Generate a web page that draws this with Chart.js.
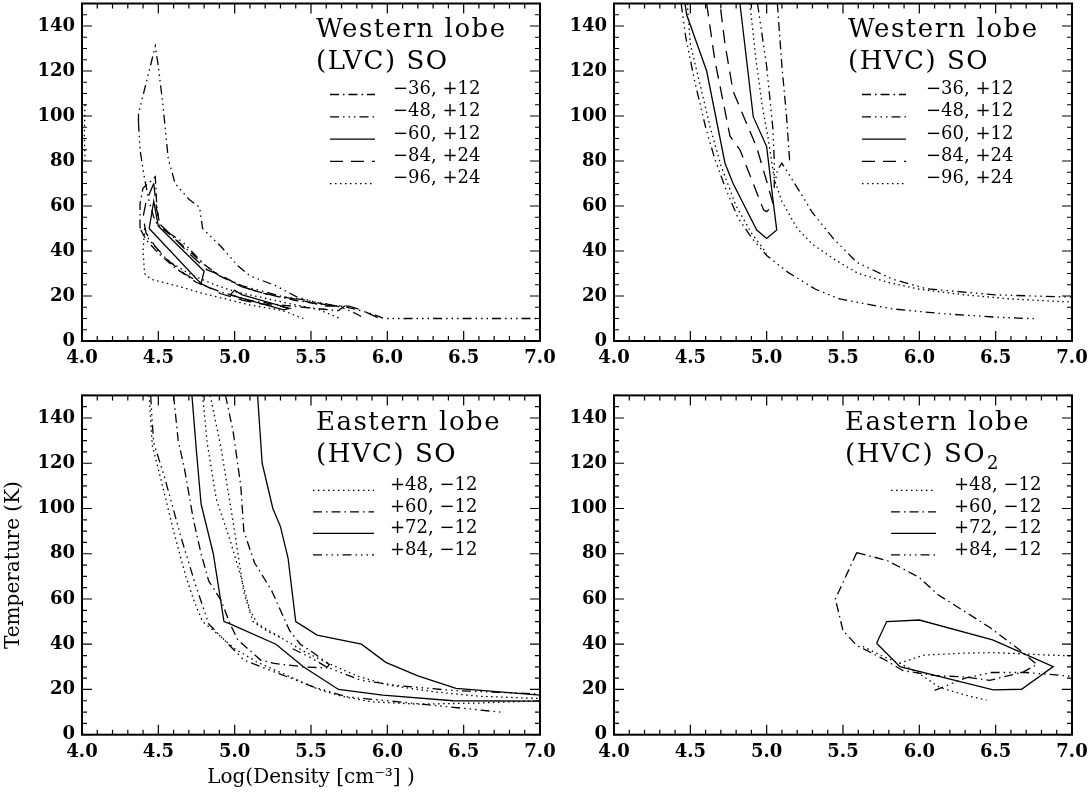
<!DOCTYPE html>
<html>
<head>
<meta charset="utf-8">
<script src="https://cdn.jsdelivr.net/npm/chart.js@4.4.1/dist/chart.umd.min.js"></script>
<style>
  body { margin: 0; background: #fff; width: 1090px; height: 794px; position: relative; overflow: hidden; }
  canvas { position: absolute; }
</style>
</head>
<body>
<canvas id="tl" width="580" height="380" style="left:0;top:0"></canvas>
<canvas id="tr" width="545" height="380" style="left:545px;top:0"></canvas>
<canvas id="bl" width="580" height="414" style="left:0;top:380px"></canvas>
<canvas id="br" width="545" height="414" style="left:545px;top:380px"></canvas>
<script>
// legend labels
var westLabels = ["\u221236, +12", "\u221248, +12", "\u221260, +12", "\u221284, +24", "\u221296, +24"];
var eastLabels = ["+48, \u221212", "+60, \u221212", "+72, \u221212", "+84, \u221212"];

// contours [log density, T] -- Western lobe LVC SO
var tlM36 = [[4.38,50],[4.38,61],[4.40,68],[4.45,71],[4.48,73],[4.49,60],[4.51,51],[4.6,46],[4.7,40],[4.8,34],[4.9,29],[5.05,24],[5.2,21],[5.4,18],[5.6,16],[5.72,15.5],[5.68,13.5],[5.6,14],[5.45,15],[5.3,16],[5.1,18],[4.9,22],[4.75,26],[4.6,33],[4.5,39],[4.42,45],[4.38,50]];
var tlM48a = [[4.37,97],[4.37,101],[4.48,131],[4.5,122],[4.53,105],[4.565,81],[4.61,70],[4.7,63],[4.77,59.5],[4.79,50],[4.91,42],[5.02,33.5],[5.1,29],[5.27,24.5],[5.41,19.5],[5.6,16],[5.7,15.5],[5.8,14],[5.9,12],[5.98,10],[6.5,10],[7.0,10]];
var tlM48b = [[4.37,97],[4.38,85],[4.41,72],[4.44,62],[4.47,55],[4.5,51],[4.66,44],[4.8,34],[4.9,29],[5.05,24.5],[5.3,20],[5.6,16.5],[5.7,15],[5.8,12],[5.85,10]];
var tlM60a = [[4.44,50],[4.47,62],[4.5,51],[4.8,31],[4.78,25.5],[4.44,50]];
var tlM60b = [[4.97,20.5],[5.0,22.5],[5.05,20.5],[5.36,14.5],[5.32,13.8],[4.97,20.5]];
var tlM84a = [[4.47,70],[4.49,58],[4.51,52],[4.6,46],[4.7,39],[4.82,31.6],[4.91,29.3],[5.05,24],[5.2,21],[5.43,18.2],[5.6,15.5],[5.75,15.5],[5.82,14],[5.95,10]];
var tlM84b = [[4.47,70],[4.42,62],[4.40,55],[4.42,48],[4.48,42],[4.56,36],[4.67,30],[4.78,25.5],[4.91,21],[5.05,18.2],[5.15,16.7],[5.3,15.5],[5.35,14.5]];
var tlM96a = [[4.41,50],[4.40,40],[4.41,30],[4.45,27.5],[4.62,24.5],[4.8,21],[4.94,18.7],[5.1,16],[5.31,13.6],[5.45,10]];
var tlM96b = [[4.41,50],[4.43,46],[4.5,40],[4.58,35],[4.7,30],[4.85,25.5],[5.0,22],[5.2,19],[5.4,16],[5.55,14],[5.69,10]];
var tlM96c = [[4.02,105],[4.015,92],[4.02,80]];

// Western lobe HVC SO
var trM36 = [[5.07,150],[5.10,122],[5.13,100],[5.15,80.5],[5.17,80.5]];
var trM48a = [[4.44,150],[4.47,135],[4.53,115],[4.6,95],[4.66,81],[4.73,68],[4.81,55],[4.9,46],[5.0,38],[5.14,30.5],[5.32,23],[5.48,18.7],[5.82,14.3],[6.16,12.1],[6.5,10.6],[6.75,9.9]];
var trM48b = [[4.94,150],[5.0,122],[5.04,95],[5.05,80],[5.05,68],[5.07,76],[5.1,79],[5.22,66],[5.3,57],[5.44,45.3],[5.59,35],[5.82,27.6],[6.05,23.2],[6.5,20.5],[7.0,19.5]];
var trM60 = [[4.465,150],[4.476,145],[4.607,120],[4.727,79],[4.78,70],[4.935,49.3],[5.0,45.6],[5.066,49.3],[5.044,61.2],[5.0,86.4],[4.912,99.7],[4.825,150]];
var trM84 = [[4.607,150],[4.66,125],[4.76,91],[4.825,85],[4.9,72],[4.98,58.2],[5.0,57.5],[5.044,60.4],[5.0,71],[4.935,86],[4.78,111],[4.727,132],[4.694,150]];
var trM96a = [[4.48,150],[4.5,132],[4.56,115],[4.63,95],[4.7,78],[4.8,60],[4.9,48],[5.0,39]];
var trM96b = [[4.89,150],[4.93,125],[4.97,105],[5.01,90],[5.05,72],[5.1,62],[5.2,50],[5.3,43],[5.45,36],[5.6,30],[5.8,26],[6.0,23],[6.3,20.5],[6.6,18.7],[7.0,17.3]];

// Eastern lobe HVC SO
var blP48a = [[4.44,150],[4.46,128],[4.52,112],[4.6,90],[4.68,70],[4.74,58],[4.79,50],[4.88,45],[5.0,38],[5.15,32],[5.35,26],[5.55,20],[5.7,17],[5.9,14.5],[6.2,13.5],[6.6,14],[7.0,15]];
var blP48b = [[4.79,150],[4.82,129],[4.88,104],[4.97,86],[5.04,70],[5.1,55],[5.15,49],[5.3,43],[5.45,37],[5.6,32],[5.8,26],[6.0,22],[6.3,19],[6.6,17],[7.0,16]];
var blP48c = [[4.84,150],[4.91,127],[4.99,94],[5.06,63],[5.12,50],[5.22,45.5],[5.3,43]];
var blP60 = [[4.60,150],[4.63,130],[4.67,118],[4.73,95],[4.78,80],[4.83,68],[4.91,59.5],[4.97,49],[5.02,42],[5.17,33],[5.26,31.5],[5.45,30],[5.6,29.5],[5.62,31],[5.52,36],[5.43,40],[5.36,46],[5.24,64],[5.13,76],[5.06,90],[5.04,110],[4.99,134],[4.94,150]];
var blP72a = [[4.72,150],[4.75,125],[4.78,102],[4.86,80],[4.93,50],[4.97,49],[5.27,40],[5.45,30],[5.68,20],[5.97,17.5],[6.43,15],[7.0,14.8]];
var blP72b = [[5.15,150],[5.18,120],[5.25,100],[5.3,92],[5.35,78],[5.40,50],[5.54,44],[5.83,40],[5.99,32],[6.2,26],[6.45,20.5],[7.0,17.5]];
var blP84a = [[4.45,150],[4.46,138],[4.47,129],[4.54,114],[4.65,87],[4.74,67],[4.83,49],[4.93,42],[5.06,33],[5.29,27],[5.52,21],[5.74,16.7],[6.2,13.7],[6.74,10]];
var blP84b = [[5.38,38],[5.5,34],[5.6,30],[5.83,24],[6.1,21.5],[6.42,19.6],[7.0,18]];

// Eastern lobe HVC SO2
var brP48a = [[5.63,39],[5.75,35],[5.87,31.6],[6.0,27],[6.13,21],[6.3,17.5],[6.44,15.3]];
var brP48b = [[5.87,31.6],[6.03,35.2],[6.27,36],[6.49,36.3],[6.75,35.5],[7.0,34.8]];
var brP60 = [[5.59,80.5],[5.79,77],[6.0,69.5],[6.12,62],[6.46,47.5],[6.66,37.3],[6.77,31],[6.68,27.7],[6.46,24],[6.3,25.5],[6.09,26.2],[5.89,28.4],[5.78,32.9],[5.59,39.5],[5.5,46],[5.45,60],[5.59,80.5]];
var brP72 = [[5.72,40.4],[5.786,50],[6.0,50.7],[6.48,41.9],[6.877,30.1],[6.67,20.1],[6.484,19.8],[5.873,30.1],[5.72,40.4]];
var brP84 = [[6.1,19.6],[6.3,25],[6.47,27.5],[6.7,27.5],[7.0,25.8]];

var DOT = [1.5, 3.5], DASH = [13, 8], DASHDOT = [9, 4, 1.5, 4], DASH3 = [9, 4, 1.5, 4, 1.5, 4, 1.5, 4];
var serif = "'DejaVu Serif', serif";

function line(pts, dash) {
  return {
    data: pts.map(function (p) { return { x: p[0], y: p[1] }; }),
    showLine: true, borderColor: "#000", borderWidth: 1.3, borderDash: dash,
    pointRadius: 0, pointHoverRadius: 0, tension: 0
  };
}

// text / legend layout of each panel, offsets from chart area corner
var panels = {
  tl: { t1: "Western lobe", t2: "(LVC) SO", sub: "", tx: 234, ty: 33, labels: westLabels,
        dashes: [DASHDOT, DASH3, [], DASH, DOT], sx0: 248, sx1: 293, lx: 311, ly: 86, dy: 22.3 },
  tr: { t1: "Western lobe", t2: "(HVC) SO", sub: "", tx: 234, ty: 33, labels: westLabels,
        dashes: [DASHDOT, DASH3, [], DASH, DOT], sx0: 248, sx1: 292, lx: 312, ly: 86, dy: 22.3 },
  bl: { t1: "Eastern lobe", t2: "(HVC) SO", sub: "", tx: 234, ty: 35, labels: eastLabels,
        dashes: [DOT, DASHDOT, [], DASH3], sx0: 231, sx1: 292, lx: 308, ly: 90, dy: 21.5 },
  br: { t1: "Eastern lobe", t2: "(HVC) SO", sub: "2", tx: 231, ty: 35, labels: eastLabels,
        dashes: [DOT, DASHDOT, [], DASH3], sx0: 277, sx1: 322, lx: 340, ly: 90, dy: 21.5 }
};

var frame = {
  id: "frame",
  afterDraw: function (chart) {
    var ctx = chart.ctx, a = chart.chartArea, xs = chart.scales.x, ys = chart.scales.y;
    var p = panels[chart.canvas.id];
    ctx.save();
    ctx.strokeStyle = "#000";
    ctx.fillStyle = "#000";
    ctx.setLineDash([]);
    ctx.lineWidth = 1.2;
    ctx.beginPath();
    for (var i = 0; i <= 30; i++) {
      var px = xs.getPixelForValue(4 + i * 0.1);
      var len = i % 5 === 0 ? 10 : 5;
      ctx.moveTo(px, a.bottom); ctx.lineTo(px, a.bottom - len);
      ctx.moveTo(px, a.top); ctx.lineTo(px, a.top + len);
    }
    for (var t = 0; t <= 150; t += 5) {
      var py = ys.getPixelForValue(t);
      var l2 = t % 20 === 0 ? 10 : 5;
      ctx.moveTo(a.left, py); ctx.lineTo(a.left + l2, py);
      ctx.moveTo(a.right, py); ctx.lineTo(a.right - l2, py);
    }
    ctx.stroke();
    ctx.lineWidth = 2;
    ctx.strokeRect(a.left, a.top, a.right - a.left, a.bottom - a.top);

    // panel title
    ctx.font = "26px " + serif;
    ctx.letterSpacing = "1.5px";
    ctx.textBaseline = "alphabetic";
    ctx.fillText(p.t1, a.left + p.tx, a.top + p.ty);
    ctx.fillText(p.t2, a.left + p.tx, a.top + p.ty + 32);
    if (p.sub) {
      var w = ctx.measureText(p.t2).width;
      ctx.font = "18px " + serif;
      ctx.fillText(p.sub, a.left + p.tx + w + 1, a.top + p.ty + 39);
    }
    // legend
    ctx.letterSpacing = "0px";
    ctx.font = "18px " + serif;
    ctx.textBaseline = "middle";
    ctx.lineWidth = 1.3;
    p.labels.forEach(function (lab, k) {
      var y = a.top + p.ly + k * p.dy;
      ctx.setLineDash(p.dashes[k]);
      ctx.beginPath();
      ctx.moveTo(a.left + p.sx0, y + 5);
      ctx.lineTo(a.left + p.sx1, y + 5);
      ctx.stroke();
      ctx.fillText(lab, a.left + p.lx, y);
    });
    ctx.restore();
  }
};

function makePanel(id, sets, yW, xH, pad, xTitle, yTitle) {
  new Chart(document.getElementById(id), {
    type: "scatter",
    data: { datasets: sets },
    options: {
      responsive: false,
      animation: false,
      layout: { padding: pad },
      plugins: { legend: { display: false }, tooltip: { enabled: false } },
      scales: {
        x: {
          type: "linear", min: 4, max: 7,
          grid: { display: false, drawTicks: false },
          border: { display: false },
          ticks: { stepSize: 0.5, padding: 7, maxRotation: 0, autoSkip: false, color: "#000",
                   font: { family: serif, size: 18, weight: "bold" },
                   callback: function (v) { return v.toFixed(1); } },
          title: { display: !!xTitle, text: xTitle, color: "#000", font: { family: serif, size: 20 },
                   padding: { top: 0, bottom: 4 } },
          afterFit: function (s) { s.height = xH; s.paddingLeft = 0; s.paddingRight = 0; }
        },
        y: {
          type: "linear", min: 0, max: 150,
          grid: { display: false, drawTicks: false },
          border: { display: false },
          ticks: { stepSize: 20, includeBounds: false, padding: 7, color: "#000",
                   font: { family: serif, size: 18, weight: "bold" } },
          title: { display: !!yTitle, text: yTitle, color: "#000", font: { family: serif, size: 20 },
                   padding: { top: 2, bottom: 0 } },
          afterFit: function (s) { s.width = yW; s.paddingTop = 0; s.paddingBottom = 0; }
        }
      }
    },
    plugins: [frame]
  });
}

makePanel("tl", [
  line(tlM36, DASHDOT), line(tlM48a, DASH3), line(tlM48b, DASH3),
  line(tlM60a, []), line(tlM60b, []), line(tlM84a, DASH), line(tlM84b, DASH),
  line(tlM96a, DOT), line(tlM96b, DOT), line(tlM96c, DOT)
], 82, 39, { top: 3.5, right: 40, left: 0, bottom: 0 }, "", "");

makePanel("tr", [
  line(trM36, DASHDOT), line(trM48a, DASH3), line(trM48b, DASH3), line(trM60, []),
  line(trM84, DASH), line(trM96a, DOT), line(trM96b, DOT)
], 69, 39, { top: 3.5, right: 18, left: 0, bottom: 0 }, "", "");

makePanel("bl", [
  line(blP48a, DOT), line(blP48b, DOT), line(blP48c, DOT), line(blP60, DASHDOT),
  line(blP72a, []), line(blP72b, []), line(blP84a, DASH3), line(blP84b, DASH3)
], 82, 59.3, { top: 15.4, right: 40, left: 0, bottom: 0 }, "Log(Density [cm\u207B\u00B3] )", "Temperature (K)");

makePanel("br", [
  line(brP48a, DOT), line(brP48b, DOT), line(brP60, DASHDOT), line(brP72, []), line(brP84, DASH3)
], 69, 59.3, { top: 15.4, right: 18, left: 0, bottom: 0 }, "", "");
</script>
</body>
</html>
